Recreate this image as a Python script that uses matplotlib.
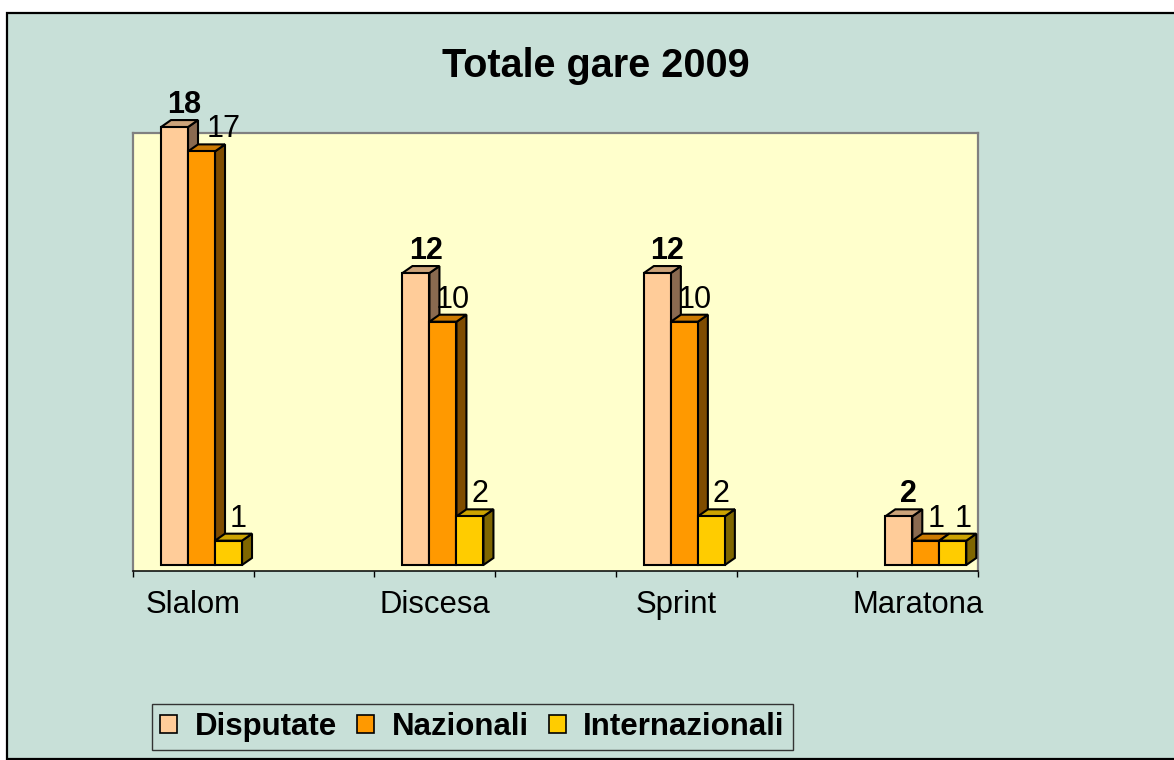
import numpy as np
import matplotlib
matplotlib.use("Agg")
import matplotlib.pyplot as plt
from matplotlib.patches import Polygon, Rectangle

plt.rcParams['font.family'] = ['Liberation Sans', 'DejaVu Sans']

# ── Data ────────────────────────────────────────────────────────────────────
categories = ["Slalom", "Discesa", "Sprint", "Maratona"]
slots = [0, 2, 4, 6]            # 7-slot category axis, every other one empty
n_slots = 7
series_names = ["Disputate", "Nazionali", "Internazionali"]
disputate = [18, 12, 12, 2]
nazionali = [17, 10, 10, 1]
internazionali = [1, 2, 2, 1]

# ── Style ───────────────────────────────────────────────────────────────────
BG = "#C8E0D8"
WALL = "#FFFFCC"
FRONT = ["#FFCC99", "#FF9900", "#FFCC00"]
TOP = ["#CCA37A", "#CC7A00", "#CCA300"]
SIDE = ["#8A6A50", "#7F4C00", "#7F6600"]

W, H = 1174, 760
fig = plt.figure(figsize=(W / 100, H / 100), dpi=100)
fig.patch.set_facecolor("white")
fig.add_artist(Rectangle((7 / W, 1 - 759 / H), (W - 7) / W + 0.01, (759 - 13) / H,
                         transform=fig.transFigure, facecolor=BG, edgecolor="black",
                         linewidth=1.6, zorder=-5))

ax = fig.add_axes([133 / W, 1 - 571 / H, 845 / W, (571 - 133) / H])
ax.set_facecolor(WALL)
px_per_unit = 24.33
ax.set_xlim(0, n_slots)
ax.set_ylim(-6 / px_per_unit, (571 - 133) / px_per_unit - 6 / px_per_unit)

for s in ("left", "top", "right"):
    ax.spines[s].set_color("#808080")
    ax.spines[s].set_linewidth(1.6)
ax.spines["bottom"].set_color("black")
ax.spines["bottom"].set_linewidth(1.1)
ax.set_yticks([])
ax.set_xticks(range(n_slots + 1))
ax.set_xticklabels([])
ax.tick_params(axis="x", direction="out", length=4.5, width=1.0, color="black")

bw = 27 / 120.71
x0 = 0.232
dx = 10 / 120.71
dy = 7 / px_per_unit
ec = "black"
lw = 1.5

for si, vals in enumerate([disputate, nazionali, internazionali]):
    xs = np.array(slots) + x0 + si * bw
    bars = ax.bar(xs, vals, width=bw, align="edge", color=FRONT[si],
                  edgecolor=ec, linewidth=lw, zorder=4, label=series_names[si])
    for b, v in zip(bars, vals):
        b.set_clip_on(False)
        x = b.get_x()
        top = Polygon([(x, v), (x + bw, v), (x + bw + dx, v + dy), (x + dx, v + dy)],
                      closed=True, facecolor=TOP[si], edgecolor=ec, linewidth=lw,
                      zorder=3, clip_on=False, joinstyle="miter")
        side = Polygon([(x + bw, 0), (x + bw, v), (x + bw + dx, v + dy), (x + bw + dx, dy)],
                       closed=True, facecolor=SIDE[si], edgecolor=ec, linewidth=lw,
                       zorder=3, clip_on=False, joinstyle="miter")
        ax.add_patch(side)
        ax.add_patch(top)
        # Excel nudges a label sideways when it would collide with its neighbour
        nudge = 9 if (si == 1 and v > 15) else 0
        ax.annotate(str(v), (x + bw / 2 + dx, v + dy), xytext=(nudge, 5),
                    textcoords="offset points", ha="center", va="baseline",
                    fontsize=22, fontweight="bold" if si == 0 else "normal",
                    annotation_clip=False, zorder=6)

# category labels, centred in their slots
for c, name in zip(slots, categories):
    ax.annotate(name, (c + 0.5, 0), xycoords=("data", "axes fraction"),
                xytext=(0, -30.5), textcoords="offset points",
                ha="center", va="baseline", fontsize=22.3, annotation_clip=False)

fig.text(596 / W, 1 - 77 / H, "Totale gare 2009", ha="center", va="baseline",
         fontsize=28.5, fontweight="bold")

leg = fig.legend(loc="center", bbox_to_anchor=(472.5 / W, 1 - 727 / H), ncol=3,
                 prop={"size": 22.5, "weight": "bold"}, frameon=True, fancybox=False,
                 facecolor=BG, edgecolor="#333333", framealpha=1,
                 handlelength=0.55, handleheight=0.55, handletextpad=0.55,
                 columnspacing=0.65, borderpad=0.25, borderaxespad=0)
leg.get_frame().set_linewidth(1.0)
for h in leg.legend_handles:
    h.set_linewidth(1.2)

fig.savefig("out.png", dpi=100)
